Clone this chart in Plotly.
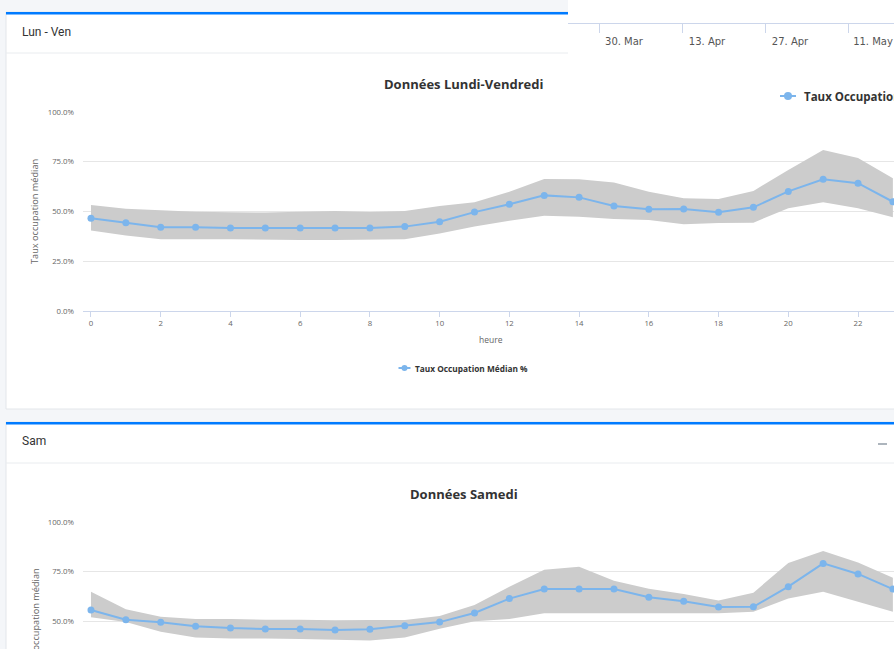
import plotly.graph_objects as go

# ---------------- data ----------------
hours = list(range(24))
x_ticks = list(range(0, 23, 2))
y_ticks = [0, 25, 50, 75, 100]
y_tick_labels = ["0.0%", "25.0%", "50.0%", "75.0%", "100.0%"]

lv_median = [46.6, 44.4, 42.1, 42.1, 41.7, 41.7, 41.7, 41.7, 41.7, 42.4, 44.9, 49.7,
             53.6, 58.1, 57.1, 52.8, 51.1, 51.3, 49.6, 52.1, 60.1, 66.2, 64.2, 54.9]
lv_upper = [53.3, 51.4, 50.6, 49.9, 49.6, 49.5, 49.9, 50.2, 49.7, 50.2, 52.8, 54.6,
            59.9, 66.3, 66.2, 64.6, 59.9, 56.6, 56.3, 60.3, 70.9, 80.9, 76.9, 66.7]
lv_lower = [40.4, 37.9, 36.0, 36.0, 36.0, 36.0, 35.7, 35.7, 35.7, 36.0, 39.0, 42.5,
            45.4, 47.9, 47.4, 46.2, 45.7, 43.6, 44.2, 44.4, 51.6, 54.6, 51.6, 47.1]

sam_median = [55.8, 50.9, 49.6, 47.6, 46.7, 46.2, 46.2, 45.7, 46.1, 47.9, 49.7, 54.3,
              61.5, 66.3, 66.3, 66.3, 62.2, 60.2, 57.3, 57.4, 67.5, 79.2, 73.9, 66.3]
sam_upper = [65.0, 56.1, 52.4, 51.3, 51.3, 50.9, 50.9, 50.6, 50.8, 50.8, 52.8, 58.3,
             67.5, 76.0, 77.5, 70.5, 66.5, 63.8, 60.5, 64.5, 79.4, 85.4, 79.7, 72.0]
sam_lower = [52.1, 49.7, 44.9, 42.0, 41.5, 41.4, 41.2, 40.9, 40.4, 41.9, 46.4, 50.1,
             51.3, 54.1, 54.1, 54.1, 54.1, 54.1, 54.1, 54.9, 61.5, 65.0, 59.8, 54.9]

nav_dates = ["2020-03-30", "2020-04-13", "2020-04-27", "2020-05-11"]
nav_labels = ["30. Mar", "13. Apr", "27. Apr", "11. May"]

series_name = "Taux Occupation Médian %"
y_title = "Taux occupation médian"
x_title = "heure"
title_lv = "Données Lundi-Vendredi"
title_sam = "Données Samedi"

# ---------------- helpers ----------------
W, H = 894, 649
def px(x):
    return x / W
def py(y):
    return 1 - y / H

LINE = "#7cb5ec"
BAND = "#cccccc"
AXC = "#ccd6eb"
GRID = "#e6e6e6"
TXT = "#666666"
DARK = "#333333"
FONT = "Open Sans"

fig = go.Figure()

for xa, ya, med, up, lo in [("x", "y", lv_median, lv_upper, lv_lower),
                            ("x2", "y2", sam_median, sam_upper, sam_lower)]:
    fig.add_trace(go.Scatter(
        x=hours + hours[::-1], y=up + lo[::-1], fill="toself",
        fillcolor=BAND, mode="lines", line=dict(width=0, color=BAND),
        hoverinfo="skip", xaxis=xa, yaxis=ya, showlegend=False))
    fig.add_trace(go.Scatter(
        x=hours, y=med, mode="lines+markers", name=series_name,
        line=dict(color=LINE, width=2), marker=dict(color=LINE, size=7),
        xaxis=xa, yaxis=ya, showlegend=False))

# invisible carrier so the navigator date axis is drawn
fig.add_trace(go.Scatter(x=nav_dates, y=[0.5] * len(nav_dates), mode="markers",
                         marker=dict(opacity=0), hoverinfo="skip",
                         xaxis="x3", yaxis="y3", showlegend=False))

xr = [-0.229, 23.032]
tickfont = dict(family=FONT, size=7.8, color=TXT)

fig.update_layout(
    width=W, height=H, margin=dict(l=0, r=0, t=0, b=0, autoexpand=False),
    paper_bgcolor="#f4f6f9", plot_bgcolor="rgba(0,0,0,0)",
    showlegend=False,
    xaxis=dict(domain=[px(83), 1], range=xr, anchor="y", tickvals=x_ticks,
               ticks="outside", ticklen=5, tickcolor=AXC, showline=True,
               linecolor=AXC, linewidth=1, showgrid=False, zeroline=False,
               tickfont=tickfont),
    yaxis=dict(domain=[py(311), py(112)], range=[0, 100], anchor="x",
               tickvals=y_ticks, ticktext=y_tick_labels,
               gridcolor=GRID, showline=False, zeroline=False,
               ticklabelstandoff=8, tickfont=tickfont),
    xaxis2=dict(domain=[px(83), 1], range=xr, anchor="y2", visible=False),
    yaxis2=dict(domain=[0, py(522)], range=[36.18, 100], anchor="x2",
                tickvals=y_ticks, ticktext=y_tick_labels,
                gridcolor=GRID, showline=False, zeroline=False,
                ticklabelstandoff=8, tickfont=tickfont),
    xaxis3=dict(type="date", domain=[px(568), 1], anchor="y3",
                range=["2020-03-24 18:29", "2020-05-18 18:14"],
                tickvals=nav_dates, ticktext=nav_labels, ticks="outside",
                ticklen=9, tickcolor=AXC, showline=True, linecolor=AXC,
                showgrid=False, zeroline=False, ticklabelshift=25,
                tickfont=dict(family="DejaVu Sans", size=10, color="#555555")),
    yaxis3=dict(domain=[py(23), py(2)], range=[0, 1], anchor="x3", visible=False),
)

shapes = []
# cards
for top, bottom, sep in [(12, 409, 53), (422, 700, 463)]:
    shapes.append(dict(type="rect", xref="paper", yref="paper", x0=px(6), x1=1.02,
                       y0=py(bottom), y1=py(top), fillcolor="white",
                       line=dict(color="#e3e6ea", width=1), layer="below"))
    shapes.append(dict(type="rect", xref="paper", yref="paper", x0=px(6), x1=1.02,
                       y0=py(top + 2.5), y1=py(top), fillcolor="#007bff",
                       line=dict(width=0), layer="below"))
    shapes.append(dict(type="line", xref="paper", yref="paper", x0=px(6), x1=1.02,
                       y0=py(sep), y1=py(sep), line=dict(color="#e9ecef", width=1),
                       layer="below"))
# minus icon on card 2
shapes.append(dict(type="line", xref="paper", yref="paper", x0=px(878), x1=px(887),
                   y0=py(444), y1=py(444), line=dict(color="#adb5bd", width=2)))
# overlapping white panel (top right)
shapes.append(dict(type="rect", xref="paper", yref="paper", x0=px(568), x1=1.02,
                   y0=py(119), y1=1.02, fillcolor="white", line=dict(width=0),
                   layer="between"))
# legend glyphs
for cx, cy, half, r in [(404.5, 368, 6, 3), (788, 96, 8, 4)]:
    shapes.append(dict(type="line", xref="paper", yref="paper", x0=px(cx - half),
                       x1=px(cx + half), y0=py(cy), y1=py(cy),
                       line=dict(color=LINE, width=2)))
    shapes.append(dict(type="circle", xref="paper", yref="paper", x0=px(cx - r),
                       x1=px(cx + r), y0=py(cy + r), y1=py(cy - r),
                       fillcolor=LINE, line=dict(width=0)))
fig.update_layout(shapes=shapes)

ann = []
def add_text(text, x, y, size, color, xanchor="center", bold=False, angle=0,
             family=FONT):
    ann.append(dict(text=f"<b>{text}</b>" if bold else text, x=px(x), y=py(y),
                    xref="paper", yref="paper", xanchor=xanchor, yanchor="middle",
                    showarrow=False, textangle=angle,
                    font=dict(family=family, size=size, color=color)))

add_text("Lun - Ven", 20, 32, 12, DARK, xanchor="left", family="Roboto")
add_text("Sam", 20, 441, 12, DARK, xanchor="left", family="Roboto")
add_text(title_lv, 463.5, 84, 13, DARK, bold=True)
add_text(title_sam, 464, 494, 13, DARK, bold=True)
add_text(y_title, 35, 212, 9.2, TXT, angle=-90)
add_text(y_title, 35, 621.5, 9.2, TXT, angle=-90)
add_text(x_title, 491, 339, 8.5, TXT)
add_text(series_name, 413, 368, 8.3, DARK, xanchor="left", bold=True)
add_text(series_name, 802, 96, 11.5, DARK, xanchor="left", bold=True)
fig.update_layout(annotations=ann)

fig.write_html(
    "out.html",
    config={"displayModeBar": False},
    post_script=(
        "document.body.style.margin='0';document.body.style.padding='0';"
        "document.body.style.overflow='hidden';"
        "var d=document.getElementById('{plot_id}');"
        "d.style.position='absolute';d.style.top='0px';d.style.left='0px';"
    ),
)
